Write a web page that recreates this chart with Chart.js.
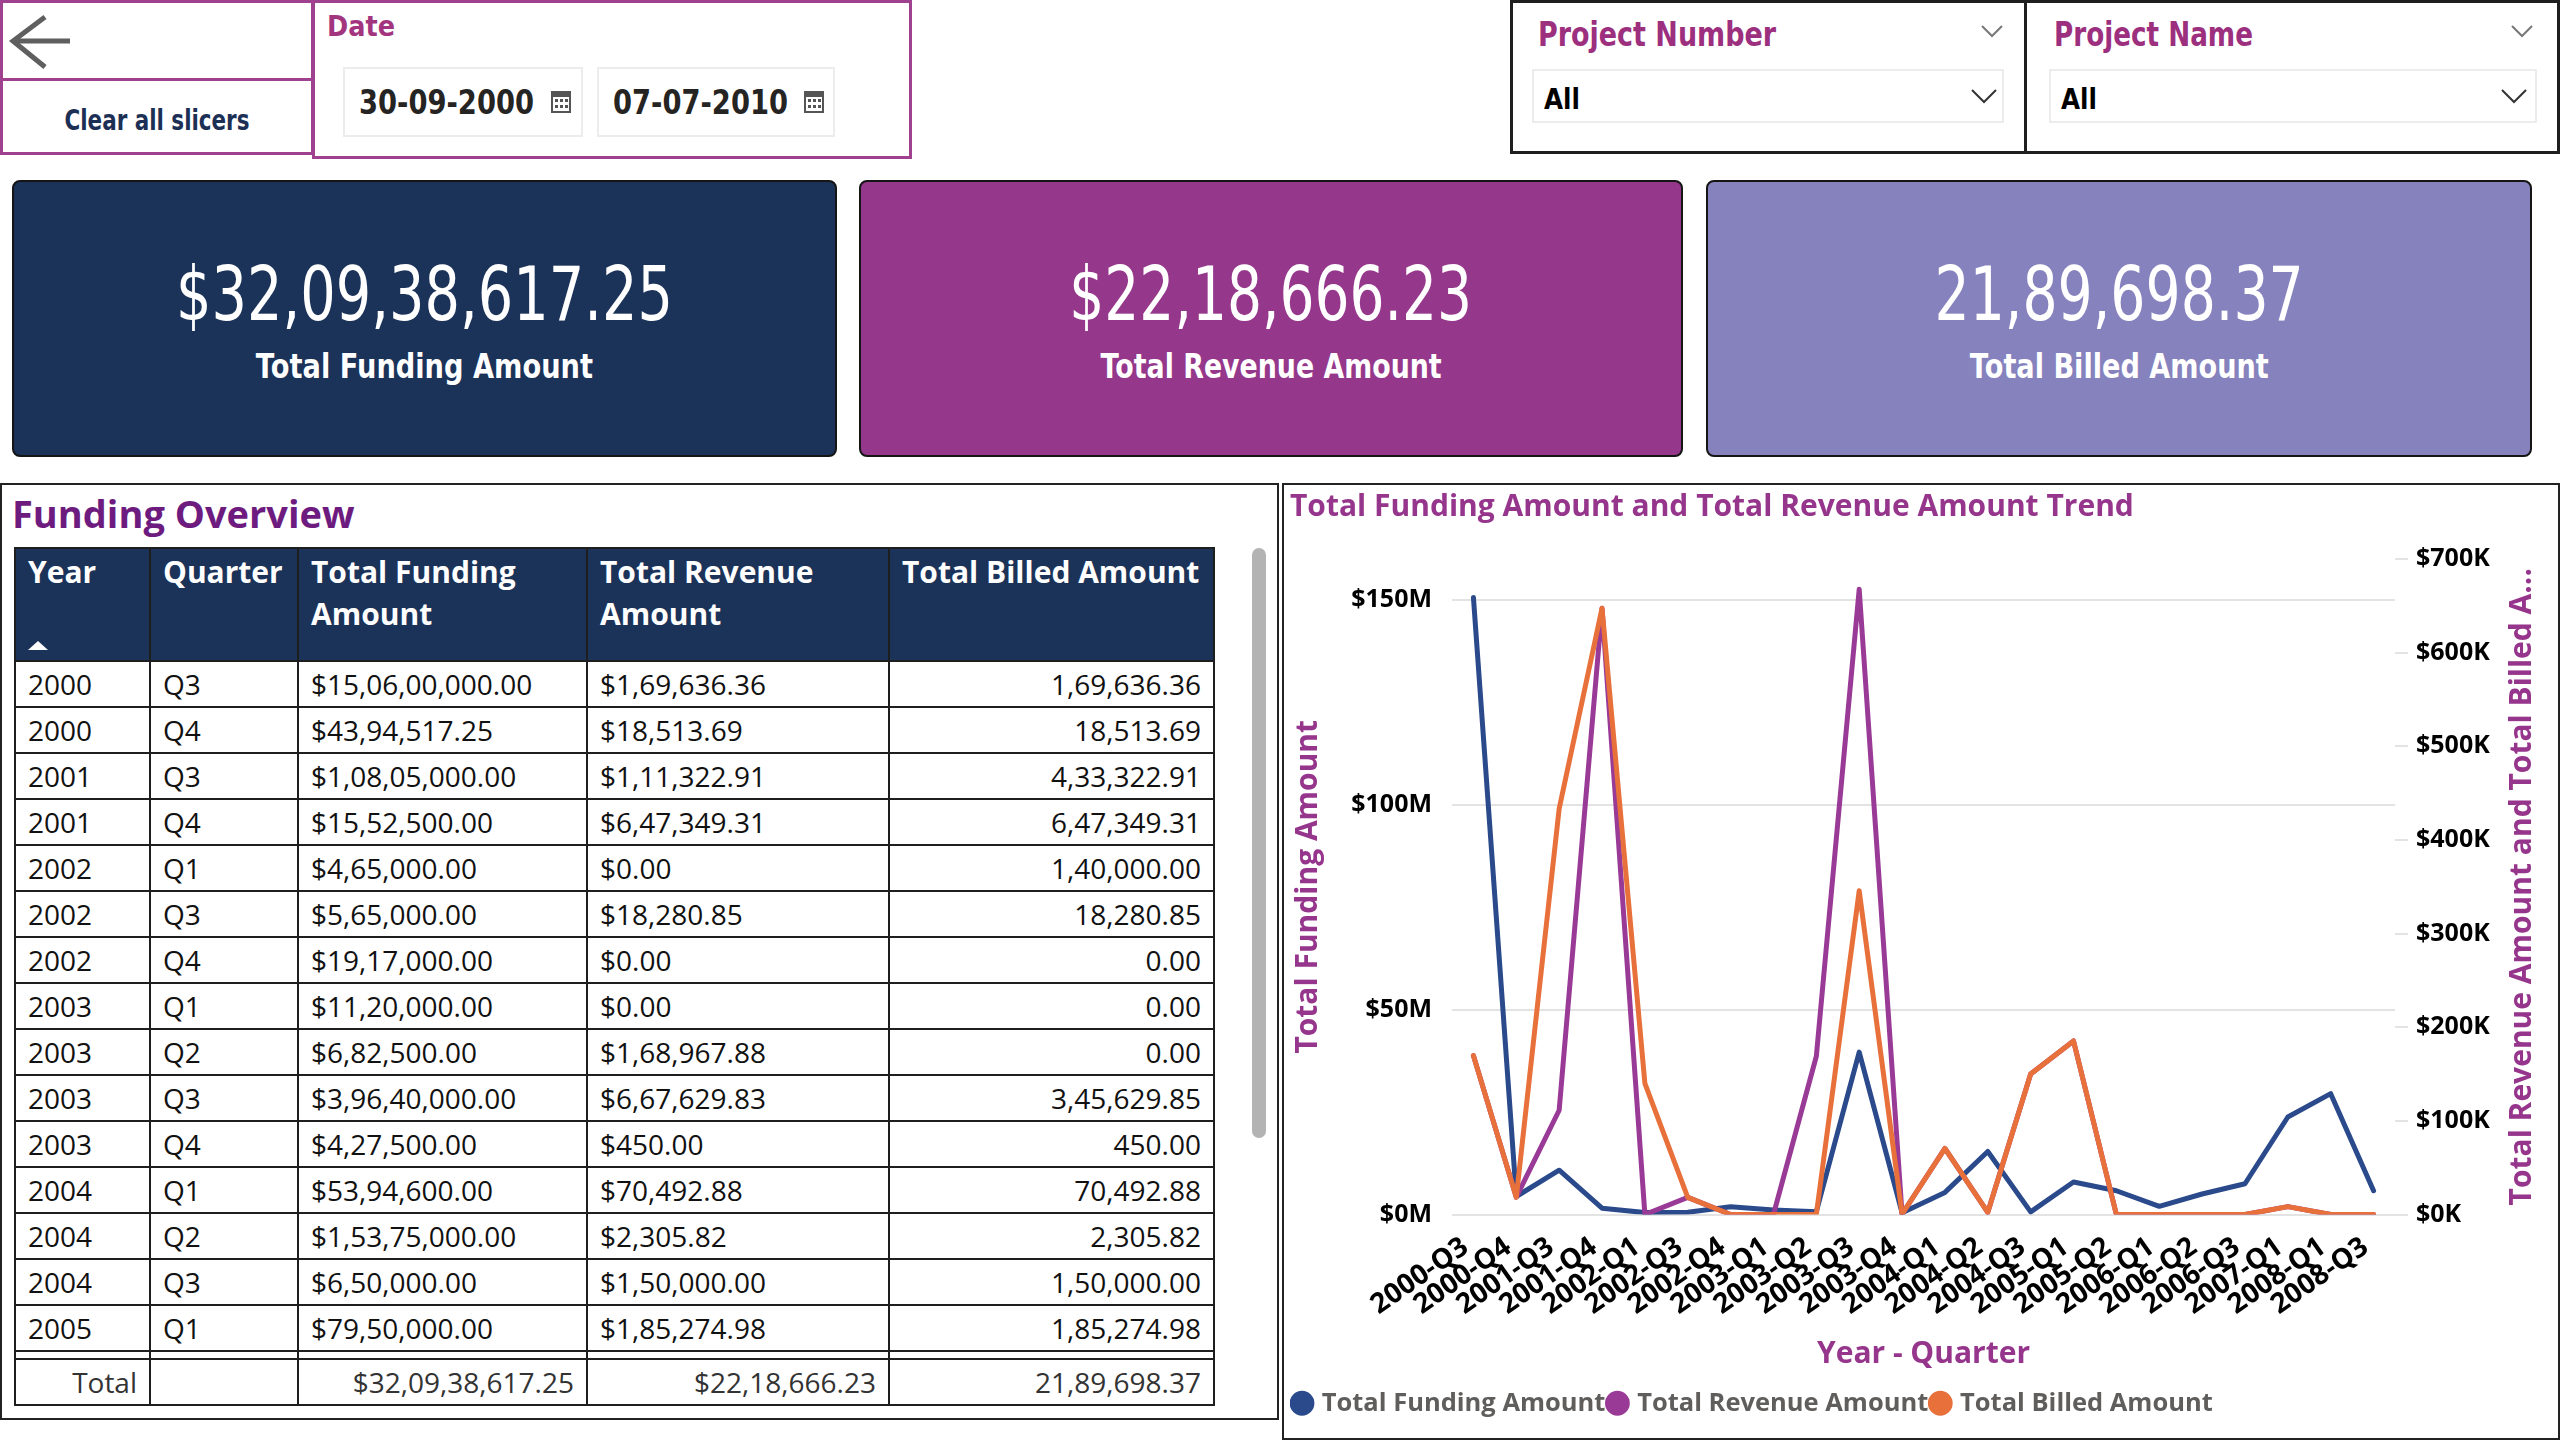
<!DOCTYPE html>
<html>
<head>
<meta charset="utf-8">
<script src="https://cdn.jsdelivr.net/npm/chart.js@4.4.1/dist/chart.umd.min.js"></script>
<style>
  body { margin:0; width:2560px; height:1440px; position:relative; overflow:hidden; background:#fff; font-family:"Open Sans", sans-serif; }
  .abs { position:absolute; box-sizing:border-box; }
  .din { font-family:"DejaVu Sans", sans-serif; display:inline-block; white-space:nowrap; transform-origin:left center; }
  .pbox { border:3px solid #a0418f; }
  .kbox { border:3px solid #1f1f1f; }
  .card { border:2px solid #151515; border-radius:8px; color:#fff; text-align:center; }
  .card .row { position:absolute; left:0; right:0; }
  .card .din { transform-origin:center center; }
  .dateIn { border:2px solid #ececec; }
  .ddIn { border:2px solid #ececec; }
  table { border-collapse:collapse; table-layout:fixed; }
  td, th { border:2px solid #1e1e1e; padding:0 12px; white-space:nowrap; }
  th { background:#1b3259; color:#fff; text-align:left; vertical-align:top; font-weight:bold; font-size:30px; line-height:42px; padding-top:2px; height:109px; position:relative; }
  td { height:44px; line-height:44px; color:#111; font-size:28px; }
  td.r { text-align:right; }
  tr.gap td { height:6px; line-height:0; font-size:0; padding:0; }
  tr.tot td { color:#333; }
</style>
</head>
<body>

<!-- slicers -->
<div class="abs pbox" style="left:0;top:0;width:314px;height:81px;">
  <svg width="80" height="80" style="position:absolute;left:4px;top:8px">
    <polyline points="38,6 6,30 38,56" fill="none" stroke="#5f5f5f" stroke-width="5"/>
    <line x1="6" y1="30" x2="63" y2="30" stroke="#5f5f5f" stroke-width="5"/>
  </svg>
</div>
<div class="abs pbox" style="left:0;top:78px;width:314px;height:77px;"></div>
<div class="abs" style="left:0;top:96px;width:314px;height:48px;line-height:48px;text-align:center;">
  <span class="din" data-w="185" style="font-weight:bold;font-size:29px;color:#1c2f55;transform-origin:center center;">Clear all slicers</span>
</div>
<div class="abs pbox" style="left:312px;top:0;width:600px;height:159px;"></div>
<div class="abs" style="left:327px;top:6px;line-height:40px;"><span class="din" data-w="68" style="font-weight:bold;font-size:29px;color:#a3357f;">Date</span></div>
<div class="abs dateIn" style="left:343px;top:67px;width:240px;height:70px;"></div>
<div class="abs dateIn" style="left:597px;top:67px;width:238px;height:70px;"></div>
<div class="abs" style="left:359px;top:81px;line-height:44px;"><span class="din" id="d1" data-w="175" style="font-weight:bold;font-size:33px;color:#252423;"></span></div>
<div class="abs" style="left:613px;top:81px;line-height:44px;"><span class="din" id="d2" data-w="175" style="font-weight:bold;font-size:33px;color:#252423;"></span></div>

<div class="abs kbox" style="left:1510px;top:0;width:517px;height:154px;"></div>
<div class="abs kbox" style="left:2024px;top:0;width:536px;height:154px;"></div>
<div class="abs" style="left:1538px;top:13px;line-height:44px;"><span class="din" data-w="238" style="font-weight:bold;font-size:33px;color:#9c2f7e;">Project Number</span></div>
<div class="abs" style="left:2054px;top:13px;line-height:44px;"><span class="din" data-w="199" style="font-weight:bold;font-size:33px;color:#9c2f7e;">Project Name</span></div>
<div class="abs ddIn" style="left:1532px;top:69px;width:472px;height:54px;"></div>
<div class="abs ddIn" style="left:2049px;top:69px;width:488px;height:54px;"></div>
<div class="abs" style="left:1544px;top:79px;line-height:40px;"><span class="din" data-w="36" style="font-weight:bold;font-size:29px;color:#000;">All</span></div>
<div class="abs" style="left:2061px;top:79px;line-height:40px;"><span class="din" data-w="36" style="font-weight:bold;font-size:29px;color:#000;">All</span></div>

<!-- KPI cards -->
<div class="abs card" style="left:12px;top:180px;width:825px;height:277px;background:#1b3259;">
  <div class="row" style="top:72px;line-height:80px;"><span class="din" id="kFund" data-w="497" style="font-size:74px;"></span></div>
  <div class="row" style="top:162px;line-height:44px;"><span class="din" data-w="337" style="font-size:34px;font-weight:bold;">Total Funding Amount</span></div>
</div>
<div class="abs card" style="left:859px;top:180px;width:824px;height:277px;background:#95378b;">
  <div class="row" style="top:72px;line-height:80px;"><span class="din" id="kRev" data-w="403" style="font-size:74px;"></span></div>
  <div class="row" style="top:162px;line-height:44px;"><span class="din" data-w="341" style="font-size:34px;font-weight:bold;">Total Revenue Amount</span></div>
</div>
<div class="abs card" style="left:1706px;top:180px;width:826px;height:277px;background:#8682be;">
  <div class="row" style="top:72px;line-height:80px;"><span class="din" id="kBill" data-w="369" style="font-size:74px;"></span></div>
  <div class="row" style="top:162px;line-height:44px;"><span class="din" data-w="299" style="font-size:34px;font-weight:bold;">Total Billed Amount</span></div>
</div>

<!-- table panel -->
<div class="abs" style="left:0;top:483px;width:1279px;height:937px;border:2px solid #222;"></div>
<div class="abs" style="left:12px;top:489px;font-weight:bold;font-size:38px;line-height:48px;color:#6e1b80;">Funding Overview</div>
<table class="abs" style="left:14px;top:547px;width:1199px;">
  <colgroup><col style="width:135px"><col style="width:148px"><col style="width:289px"><col style="width:302px"><col style="width:325px"></colgroup>
  <thead><tr>
    <th>Year<svg width="20" height="12" style="position:absolute;left:12px;top:90px"><polygon points="0,11 10,2 20,11" fill="#fff"/></svg></th>
    <th>Quarter</th><th>Total Funding<br>Amount</th><th>Total Revenue<br>Amount</th><th>Total Billed Amount</th>
  </tr></thead>
  <tbody id="tbody"></tbody>
</table>
<div class="abs" style="left:1252px;top:548px;width:14px;height:590px;background:#b3b3b3;border-radius:7px;"></div>

<!-- chart panel -->
<div class="abs" style="left:1282px;top:483px;width:1278px;height:957px;border:2px solid #222;">
  <div style="position:absolute;left:0;top:0;width:1274px;height:953px;"><canvas id="trend"></canvas></div>
</div>

<script>
// ---- data ----
const quarterLabels = ['2000-Q3','2000-Q4','2001-Q3','2001-Q4','2002-Q1','2002-Q3','2002-Q4','2003-Q1','2003-Q2','2003-Q3','2003-Q4',
  '2004-Q1','2004-Q2','2004-Q3','2005-Q1','2005-Q2','2006-Q1','2006-Q2','2006-Q3','2007-Q1','2008-Q1','2008-Q3'];
const fundingAmount = [150600000, 4394517.25, 10805000, 1552500, 465000, 565000, 1917000, 1120000, 682500, 39640000, 427500,
  5394600, 15375000, 650000, 7950000, 5800000, 2000000, 5000000, 7500000, 23800000, 29500000, 5800000];
const revenueAmount = [169636.36, 18513.69, 111322.91, 647349.31, 0, 18280.85, 0, 0, 168967.88, 667629.83, 450,
  70492.88, 2305.82, 150000, 185274.98, 0, 0, 0, 0, 8441.72, 0, 0];
const billedAmount = [169636.36, 18513.69, 433322.91, 647349.31, 140000, 18280.85, 0, 0, 0, 345629.85, 450,
  70492.88, 2305.82, 150000, 185274.98, 0, 0, 0, 0, 8441.72, 0, 0];
const leftTicks = [0, 50000000, 100000000, 150000000];
const dateRange = ['30-09-2000', '07-07-2010'];
const visibleRows = 15;

const rightAxisTitle = 'Total Revenue Amount and Total Billed A...';

// indian grouping, 2 decimals
function inr(v) {
  const parts = Math.abs(v).toFixed(2).split('.');
  let i = parts[0], last3 = i.slice(-3), rest = i.slice(0, -3);
  if (rest) rest = rest.replace(/\B(?=(\d{2})+(?!\d))/g, ',') + ',';
  return rest + last3 + '.' + parts[1];
}
const sum = a => a.reduce((s, v) => s + v, 0);

document.getElementById('d1').textContent = dateRange[0];
document.getElementById('d2').textContent = dateRange[1];

// little svg helpers
function addSvg(x, y, w, h, inner) {
  const s = document.createElementNS('http://www.w3.org/2000/svg', 'svg');
  s.setAttribute('width', w); s.setAttribute('height', h);
  s.style.cssText = 'position:absolute;left:' + x + 'px;top:' + y + 'px';
  s.innerHTML = inner;
  document.body.appendChild(s);
}
function chevron(x, y, w, col) {
  addSvg(x, y, w + 4, w / 2 + 4, '<polyline points="2,2 ' + (w / 2 + 2) + ',' + (w / 2 + 2) + ' ' + (w + 2) + ',2" fill="none" stroke="' + col + '" stroke-width="2"/>');
}
const cal = '<rect x="1" y="3" width="18" height="20" fill="none" stroke="#555" stroke-width="2"/><rect x="1" y="3" width="18" height="5" fill="#555"/>' +
  '<g fill="#555"><rect x="4" y="10" width="3" height="3"/><rect x="9" y="10" width="3" height="3"/><rect x="14" y="10" width="3" height="3"/>' +
  '<rect x="4" y="16" width="3" height="3"/><rect x="9" y="16" width="3" height="3"/><rect x="14" y="16" width="3" height="3"/></g>';
addSvg(551, 89, 20, 24, cal);
addSvg(804, 89, 20, 24, cal);
chevron(1980, 24, 20, '#777'); chevron(1970, 88, 24, '#333');
chevron(2510, 24, 20, '#777'); chevron(2500, 88, 24, '#333');

// KPI cards
document.getElementById('kFund').textContent = '$' + inr(sum(fundingAmount));
document.getElementById('kRev').textContent = '$' + inr(sum(revenueAmount));
document.getElementById('kBill').textContent = inr(sum(billedAmount));

// table
let html = '';
for (let i = 0; i < visibleRows; i++) {
  const [yr, q] = quarterLabels[i].split('-');
  html += '<tr><td>' + yr + '</td><td>' + q + '</td><td>$' + inr(fundingAmount[i]) + '</td><td>$' + inr(revenueAmount[i]) +
    '</td><td class="r">' + inr(billedAmount[i]) + '</td></tr>';
}
html += '<tr class="gap"><td></td><td></td><td></td><td></td><td></td></tr>';
html += '<tr class="tot"><td class="r">Total</td><td></td><td class="r">$' + inr(sum(fundingAmount)) + '</td><td class="r">$' +
  inr(sum(revenueAmount)) + '</td><td class="r">' + inr(sum(billedAmount)) + '</td></tr>';
document.getElementById('tbody').innerHTML = html;

// squeeze the DIN-like labels to the widths they have in the report
document.querySelectorAll('[data-w]').forEach(el => {
  const w = el.getBoundingClientRect().width;
  el.style.transform = 'scaleX(' + (+el.dataset.w / w).toFixed(3) + ')';
});

// ---- chart ----
Chart.defaults.font.family = "'Open Sans', sans-serif";
const purple = '#96358c';

const rightTitle = {
  id: 'rightTitle',
  afterDraw(chart) {
    const s = chart.scales.y1, c = chart.ctx;
    c.save();
    c.translate(s.right - 18, (s.top + s.bottom) / 2);
    c.rotate(-Math.PI / 2);
    c.font = "bold 30px 'Open Sans'";
    c.fillStyle = purple;
    c.textAlign = 'center';
    c.textBaseline = 'middle';
    c.fillText(rightAxisTitle, 0, 0);
    c.restore();
  }
};

const lineStyle = { borderWidth: 5, pointRadius: 0, tension: 0, borderJoinStyle: 'round', borderCapStyle: 'round' };

new Chart(document.getElementById('trend'), {
  type: 'line',
  data: {
    labels: quarterLabels,
    datasets: [
      Object.assign({ label: 'Total Funding Amount', data: fundingAmount, borderColor: '#2b4a8b', backgroundColor: '#2b4a8b', yAxisID: 'y', order: 3 }, lineStyle),
      Object.assign({ label: 'Total Revenue Amount', data: revenueAmount, borderColor: '#9a3a97', backgroundColor: '#9a3a97', yAxisID: 'y1', order: 2 }, lineStyle),
      Object.assign({ label: 'Total Billed Amount', data: billedAmount, borderColor: '#e8703a', backgroundColor: '#e8703a', yAxisID: 'y1', order: 1 }, lineStyle)
    ]
  },
  options: {
    responsive: true,
    maintainAspectRatio: false,
    animation: false,
    layout: { padding: { left: 6, right: 18, top: 0, bottom: 12 } },
    plugins: {
      title: {
        display: true,
        text: 'Total Funding Amount and Total Revenue Amount Trend',
        align: 'start',
        color: purple,
        font: { size: 30, weight: 'bold' },
        padding: { top: 4, bottom: 34 }
      },
      legend: {
        position: 'bottom',
        align: 'start',
        labels: {
          usePointStyle: true,
          pointStyle: 'circle',
          boxWidth: 14,
          boxHeight: 14,
          color: '#605e5c',
          font: { size: 25.5, weight: 'bold' },
          padding: 5,
          sort: (a, b) => a.datasetIndex - b.datasetIndex
        }
      },
      tooltip: { enabled: false }
    },
    scales: {
      x: {
        offset: true,
        grid: { display: false },
        border: { display: false },
        ticks: {
          color: '#000',
          font: { size: 28, weight: 'bold' },
          maxRotation: 35,
          minRotation: 35,
          autoSkip: false,
          padding: 8,
          labelOffset: -8
        },
        title: {
          display: true,
          text: 'Year - Quarter',
          color: purple,
          font: { size: 30, weight: 'bold' },
          padding: { top: 0, bottom: 13 }
        },
        afterFit(s) { s.height = 171; }
      },
      y: {
        position: 'left',
        min: 0,
        max: 160000000,
        afterBuildTicks(s) { s.ticks = leftTicks.map(v => ({ value: v })); },
        ticks: {
          color: '#000',
          font: { size: 25, weight: 'bold' },
          padding: 20,
          callback: v => '$' + (v / 1000000) + 'M'
        },
        grid: { color: '#e3e3e3', lineWidth: 2, drawTicks: false },
        border: { display: false },
        title: {
          display: true,
          text: 'Total Funding Amount',
          color: purple,
          font: { size: 30, weight: 'bold' },
          padding: { top: 0, bottom: 0 }
        },
        afterFit(s) { s.width = 162; }
      },
      y1: {
        position: 'right',
        min: 0,
        max: 700000,
        ticks: {
          stepSize: 100000,
          color: '#000',
          font: { size: 25, weight: 'bold' },
          padding: 8,
          callback: v => '$' + (v / 1000) + 'K'
        },
        grid: { drawOnChartArea: false, color: '#e3e3e3', lineWidth: 2, tickLength: 13 },
        border: { display: false },
        afterFit(s) { s.width = 145; }
      }
    }
  },
  plugins: [rightTitle]
});
</script>
</body>
</html>
